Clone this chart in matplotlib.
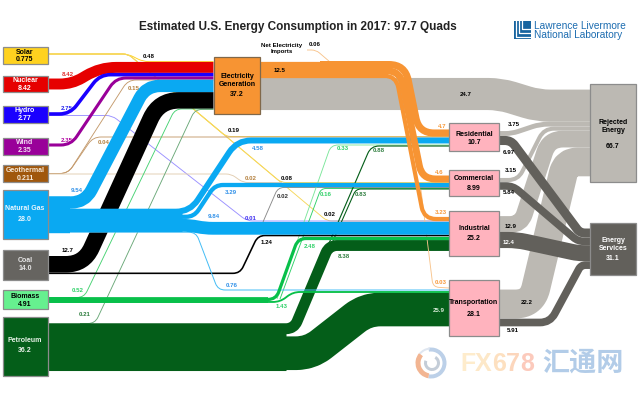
import numpy as np
import matplotlib
matplotlib.use('Agg')
import matplotlib.pyplot as plt
from matplotlib.path import Path
from matplotlib.patches import PathPatch, Rectangle, Wedge

plt.rcParams['font.family'] = ['Liberation Sans', 'DejaVu Sans']

# values in quads
title = 'Estimated U.S. Energy Consumption in 2017: 97.7 Quads'
source_names = ['Solar', 'Nuclear', 'Hydro', 'Wind', 'Geothermal', 'Natural Gas', 'Coal', 'Biomass', 'Petroleum']
source_values = [0.775, 8.42, 2.77, 2.35, 0.211, 28.0, 14.0, 4.91, 36.2]
sector_names = ['Residential', 'Commercial', 'Industrial', 'Transportation']
sector_values = [10.7, 8.99, 25.2, 28.1]
elec_value = 37.2
rejected_value = 66.7
services_value = 31.1
net_imports = 0.06

# same order as source_names
to_elec = [0.48, 8.42, 2.75, 2.35, 0.15, 9.54, 12.7, 0.52, 0.21]
solar_out = [0.19, 0.08, 0.02]        # res, com, ind
geo_out = [0.04, 0.02]                # res, com
hydro_out = [0.01]                    # ind
gas_out = [4.58, 3.29, 9.84, 0.76]    # res, com, ind, trans
coal_out = [0.02, 1.24]               # com, ind
bio_out = [0.33, 0.16, 2.48, 1.43]    # res, com, ind, trans
pet_out = [0.88, 0.83, 8.38, 25.9]    # res, com, ind, trans
elec_out = [4.7, 4.6, 3.23, 0.03]     # res, com, ind, trans
elec_loss = 24.7
elec_total_out = 12.5
to_rejected = [3.75, 3.15, 12.9, 22.2]  # res, com, ind, trans
to_services = [6.97, 5.84, 12.4, 5.91]  # res, com, ind, trans

# colours
YEL, RED, BLU, PUR, TAN = '#ffd21f', '#e60000', '#1a00ff', '#990099', '#a0570c'
GAS, BLK, BIO, PET, ORG = '#0aa9f2', '#000000', '#08c04a', '#045e19', '#f79433'
REJ, SRV, PNK = '#bcb9b3', '#62605b', '#ffb3be'

PX = 1.3  # pixels per quad


def fmt(v):
    if v >= 10:
        return '%.1f' % v
    return '%.3g' % v


def stack(top, values):
    '''centre y of each band when stacked downward from top'''
    w = np.array(values) * PX
    return top + np.cumsum(w) - w / 2


def rounded(pts, r):
    verts = [pts[0]]
    codes = [Path.MOVETO]
    for i in range(1, len(pts) - 1):
        p0, p1, p2 = [np.array(p, dtype=float) for p in pts[i-1:i+2]]
        d1 = p1 - p0
        d2 = p2 - p1
        l1 = np.hypot(*d1)
        l2 = np.hypot(*d2)
        rr = min(r, l1 / 2, l2 / 2)
        verts += [p1 - d1 / l1 * rr, p1, p1 + d2 / l2 * rr]
        codes += [Path.LINETO, Path.CURVE3, Path.CURVE3]
    verts.append(pts[-1])
    codes.append(Path.LINETO)
    return Path(verts, codes)


def flow(value, pts, color, r=None, pad=0):
    w = max(value * PX, 0.9) + pad
    if r is None:
        r = 7 + w
    ax.add_patch(PathPatch(rounded(pts, r), fc='none', ec=color, lw=w * 0.72,
                           capstyle='butt', joinstyle='round'))


def box(x0, x1, y0, y1, color, edge='#8c8c8c'):
    ax.add_patch(Rectangle((x0, y0), x1 - x0, y1 - y0, fc=color, ec=edge, lw=0.9, zorder=2))


def label(x, y, s, color='black', size=4.4, **kw):
    ax.text(x, y, s, color=color, fontsize=size, fontweight='bold', ha='center', va='center', zorder=4, **kw)


fig = plt.figure(figsize=(6.4, 4), dpi=100)
ax = fig.add_axes([0, 0, 1, 1])
ax.set_xlim(0, 640)
ax.set_ylim(400, 0)
ax.axis('off')

LX, EL, ER, SL, SR, RL = 48, 213.5, 260, 449, 499, 590

elec_y = stack(61.3, to_elec)
gas_y = stack(196.3, [to_elec[5]] + gas_out)
coal_y = stack(256, [to_elec[6], coal_out[1]])
bio_y = stack(296.5, [to_elec[7], bio_out[0], bio_out[1], bio_out[2], bio_out[3]])
pet_y = stack(323, [to_elec[8], pet_out[2], pet_out[0], pet_out[1], pet_out[3]])
rej_y = stack(89.6, [elec_loss] + to_rejected)
srv_y = stack(228.5, to_services)

# rejected energy at the back
flow(elec_loss, [(ER, 94), (500, 94), (538, rej_y[0]), (RL, rej_y[0])], REJ, r=12)
flow(to_rejected[3], [(SR, 304), (532, 304), (566, rej_y[4]), (RL, rej_y[4])], REJ, r=18)
flow(to_rejected[2], [(SR, 224.5), (521, 224.5), (549, rej_y[3]), (RL, rej_y[3])], REJ, r=14)
flow(to_rejected[1], [(SR, 180), (518, 180), (544, rej_y[2]), (RL, rej_y[2])], REJ, r=10)
flow(to_rejected[0], [(SR, 133.5), (512, 133.5), (540, rej_y[1]), (RL, rej_y[1])], REJ, r=8)

# energy services
flow(to_services[0], [(SR, 140.5), (511, 140.5), (580, srv_y[0]), (RL, srv_y[0])], SRV, r=10)
flow(to_services[1], [(SR, 186), (513, 186), (578, srv_y[1]), (RL, srv_y[1])], SRV, r=10)
flow(to_services[2], [(SR, 240), (517, 240), (578, srv_y[2]), (RL, srv_y[2])], SRV, r=12)
flow(to_services[3], [(SR, 322.5), (550, 322.5), (581, srv_y[3]), (RL, srv_y[3])], SRV, r=10)

# thin lines go behind the thick bands
YLINE = '#f6d75a'
flow(to_elec[0], [(LX, 54), (128, 54), (143, elec_y[0]), (EL, elec_y[0])], YEL, r=6)
flow(solar_out[0], [(LX, 54), (128, 54), (226, 136.5), (SL, 136.5)], YLINE, r=5)
flow(solar_out[1], [(LX, 54), (128, 54), (281, 182.5), (SL, 182.5)], YLINE, r=5)
flow(solar_out[2], [(LX, 54), (128, 54), (327, 221), (SL, 221)], YLINE, r=5)
flow(net_imports, [(307, 50), (316, 50), (330, 62)], '#f8c48c', r=5)

flow(hydro_out[0], [(LX, 115.5), (112, 115.5), (247, 221), (SL, 221)], '#9a90ff', r=6)
flow(to_elec[4], [(LX, 173.5), (68, 173.5), (128, 80), (EL, 80)], '#c49a6c', r=8)
flow(geo_out[0], [(LX, 173.5), (68, 173.5), (93, 137), (SL, 137)], '#c49a6c', r=8)
flow(geo_out[1], [(LX, 174), (231, 174), (243, 182.5), (282, 182.5)], '#e2cdb0', r=5)
flow(coal_out[0], [(263, 222), (278, 187.5), (SL, 187.5)], '#8a8a8a', r=6)
flow(to_elec[7], [(LX + 20, 297.5), (84, 297.5), (175, elec_y[7]), (EL, elec_y[7])], '#46d272', r=7)
flow(to_elec[8], [(80, 323.5), (95, 323.5), (195, elec_y[8]), (EL, elec_y[8])], '#6aa878', r=7)
flow(bio_out[0], [(277, 299), (331, 145), (SL, 145)], '#7be69a', r=7)
flow(bio_out[1], [(280, 299), (321, 188.5), (SL, 188.5)], '#2fd068', r=5)
flow(pet_out[0], [(292, 329), (371, 146), (SL, 146)], PET, r=8)
flow(pet_out[1], [(294, 329), (356, 189), (SL, 189)], PET, r=5)

# sources into electricity
flow(to_elec[1], [(LX, 84), (72, 84), (100, elec_y[1]), (EL, elec_y[1])], RED)
flow(to_elec[2], [(LX, 114), (70, 114), (100, elec_y[2]), (EL, elec_y[2])], BLU)
flow(to_elec[3], [(LX, 145), (71, 145), (116, elec_y[3]), (EL, elec_y[3])], PUR)

# petroleum, coal, biomass, gas
flow(pet_out[2], [(LX, pet_y[1]), (294, pet_y[1]), (329, 245.5), (SL, 245.5)], PET, r=8)
flow(pet_out[3], [(LX, pet_y[4]), (310, pet_y[4]), (366, 309.5), (SL, 309.5)], PET, r=14)
flow(source_values[8], [(LX, 346.5), (286, 346.5)], PET)
flow(elec_out[3], [(421, 190), (433, 287), (SL, 288)], '#f8c48c', r=6)
flow(to_elec[6], [(LX, coal_y[0]), (84, coal_y[0]), (159, elec_y[6]), (EL, elec_y[6])], BLK, r=20)
flow(coal_out[1], [(LX, coal_y[1]), (240, coal_y[1]), (258, 235.5), (SL, 235.5)], BLK, r=7)
flow(gas_out[3], [(LX, gas_y[4]), (196, gas_y[4]), (218, 290), (SL, 290)], '#45bdf5', r=7)
flow(bio_out[3], [(LX, bio_y[4]), (280, bio_y[4]), (293, 292), (SL, 292)], BIO, r=7)
flow(bio_out[2], [(LX, bio_y[3]), (276, bio_y[3]), (298, 238.5), (SL, 238.5)], BIO, r=8)
flow(sum(bio_out), [(LX, 300), (268, 300)], BIO)
flow(to_elec[7], [(LX, bio_y[0]), (80, bio_y[0])], BIO)
flow(to_elec[5], [(LX, gas_y[0]), (85, gas_y[0]), (146, elec_y[5]), (EL, elec_y[5])], GAS, r=14)
flow(gas_out[0], [(LX, gas_y[1]), (190, gas_y[1]), (237, 140.5), (SL, 140.5)], GAS, r=14)
flow(gas_out[1], [(LX, gas_y[2]), (194, gas_y[2]), (215, 185), (SL, 185)], GAS, r=8)
flow(gas_out[2], [(LX, gas_y[3]), (190, gas_y[3]), (205, 228.3), (SL, 228.3)], GAS, r=8)
flow(source_values[5], [(LX, 214.5), (70, 214.5)], GAS)
flow(sum(gas_out[:3]), [(LX, 220), (182, 220)], GAS)

# electricity out, padded a little so no gaps show between the three
out_y = stack(61.5, elec_out[:3])
flow(elec_out[0], [(320, out_y[0]), (405, out_y[0]), (419, 133), (SL, 133)], ORG, r=16, pad=1)
flow(elec_out[1], [(320, out_y[1]), (400, out_y[1]), (422, 179), (SL, 179)], ORG, r=14, pad=1)
flow(elec_out[2], [(320, out_y[2]), (396, out_y[2]), (424, 219), (SL, 219)], ORG, r=12)
flow(elec_total_out, [(ER, 69.5), (388, 69.5)], ORG)

# boxes
src_tops = [47, 76, 106, 138, 165, 190, 250, 290, 317]
src_bottoms = [63.5, 92, 123, 155, 182, 239, 280, 309, 376]
src_colors = ['#ffd21f', RED, BLU, PUR, TAN, GAS, '#666460', '#66f08f', PET]
src_text = ['black', 'white', 'white', '#f4dff4', '#f6e8d8', '#e8f6ff', '#e6e6e6', 'black', '#e8f2e8']
src_name_y = [52, 81, 110, 142, 171, 209, 260, 296, 341]
src_val_y = [59.5, 88, 118, 150, 178, 219.5, 269, 304, 351]
for i, name in enumerate(source_names):
    box(2.5, 48, src_tops[i], src_bottoms[i], src_colors[i])
    label(25, src_name_y[i], name, src_text[i], 5)
    label(25, src_val_y[i], fmt(source_values[i]), src_text[i], 5)

box(EL, ER, 57, 114, ORG, '#80684a')
label(237, 76, 'Electricity', size=5)
label(237, 84, 'Generation', size=5)
label(237, 95, fmt(elec_value), size=5)

sec_tops = [123, 170, 211, 280]
sec_bottoms = [151, 196, 256, 336]
sec_name_y = [134, 179, 228, 303]
sec_val_y = [142.5, 188, 238, 314]
for i, name in enumerate(sector_names):
    box(SL, SR, sec_tops[i], sec_bottoms[i], PNK)
    label(474, sec_name_y[i], name, size=5)
    label(474, sec_val_y[i], fmt(sector_values[i]), size=5)

box(RL, 636, 84, 182, REJ)
label(613, 123, 'Rejected', size=5)
label(613, 131, 'Energy', size=5)
label(613, 146, fmt(rejected_value), size=5)
box(RL, 636, 223, 275, SRV, '#8c8c8c')
label(613, 240, 'Energy', 'white', 5)
label(613, 248, 'Services', 'white', 5)
label(613, 259, fmt(services_value), 'white', 5)

# flow value labels
C_BLUE, C_TAN, C_GRN, C_DGR, C_ORG = '#2f90e8', '#b5813f', '#2fd068', '#2e7d3e', '#f79a3c'
label(149, 56, fmt(to_elec[0]))
label(68, 74, fmt(to_elec[1]), '#e03030')
label(67, 108, fmt(to_elec[2]), '#2020f0')
label(67, 140, fmt(to_elec[3]), '#b000a0')
label(134, 88, fmt(to_elec[4]), C_TAN)
label(77, 191, fmt(to_elec[5]), C_BLUE)
label(68, 250, fmt(to_elec[6]))
label(78, 290, fmt(to_elec[7]), C_GRN)
label(85, 315, fmt(to_elec[8]), C_DGR)
label(234, 131, fmt(solar_out[0]))
label(287, 178, fmt(solar_out[1]))
label(330, 214, fmt(solar_out[2]))
label(104, 142, fmt(geo_out[0]), C_TAN)
label(251, 178.5, fmt(geo_out[1]), C_TAN)
label(251, 218, fmt(hydro_out[0]), '#4030f0')
label(258, 148, fmt(gas_out[0]), C_BLUE)
label(231, 192, fmt(gas_out[1]), C_BLUE)
label(214, 217, fmt(gas_out[2]), C_BLUE)
label(232, 285.5, fmt(gas_out[3]), C_BLUE)
label(283, 197, fmt(coal_out[0]), '#333333')
label(267, 242.5, fmt(coal_out[1]))
label(343, 149, fmt(bio_out[0]), C_GRN)
label(326, 194, fmt(bio_out[1]), C_GRN)
label(310, 247, fmt(bio_out[2]), C_GRN)
label(282, 307, fmt(bio_out[3]), C_GRN)
label(379, 150, fmt(pet_out[0]), C_DGR)
label(361, 195, fmt(pet_out[1]), C_DGR)
label(344, 256, fmt(pet_out[2]), C_DGR)
label(439, 310.5, fmt(pet_out[3]), '#d8ecd8')
label(442, 127, fmt(elec_out[0]), C_ORG)
label(439, 172, fmt(elec_out[1]), C_ORG)
label(441, 212, fmt(elec_out[2]), C_ORG)
label(441, 283, fmt(elec_out[3]), C_ORG)
label(280, 70, fmt(elec_total_out))
label(466, 94, fmt(elec_loss))
label(514, 125, fmt(to_rejected[0]))
label(511, 170, fmt(to_rejected[1]))
label(511, 226, fmt(to_rejected[2]))
label(527, 303, fmt(to_rejected[3]))
label(509, 153, fmt(to_services[0]))
label(509, 193, fmt(to_services[1]))
label(509, 243, fmt(to_services[2]), 'white')
label(513, 330.5, fmt(to_services[3]))
label(282, 45, 'Net Electricity')
label(282, 52, 'Imports')
label(315, 45, fmt(net_imports))

ax.text(298, 27, title, fontsize=8.5, fontweight='bold', color='#222222', ha='center', va='center')

# logo
LOGO = '#17649f'
ax.add_patch(Rectangle((514, 21), 17, 18, fc=LOGO, ec='none', zorder=2))
for dx in [2, 5, 8]:
    ax.plot([514 + dx, 514 + dx, 531], [21, 39 - dx * 1.2, 39 - dx * 1.2], color='white', lw=0.9, zorder=3)
ax.text(534, 26, 'Lawrence Livermore', color='#1c6cb0', fontsize=7.3, ha='left', va='center')
ax.text(534, 35, 'National Laboratory', color='#1c6cb0', fontsize=7.3, ha='left', va='center')

# watermark
ax.add_patch(Wedge((431, 363), 15.5, -100, 100, width=4, fc='#bcd0e8', ec='none'))
ax.add_patch(Wedge((431, 363), 15.5, 100, 220, width=5, fc='#f2b592', ec='none'))
ax.add_patch(Wedge((431, 363), 15.5, 220, 265, width=2, fc='#dfe6f0', ec='none'))
ax.add_patch(Wedge((432, 363), 8, -60, 200, width=3, fc='#c4cdd8', ec='none'))
wm_letters = list('FX678')
wm_colors = ['#feeccc', '#fde8c8', '#fde0c0', '#fcd6bc', '#fccabc']
wm_x = [460, 475.2, 492, 505.9, 519.8]
for s, c, x in zip(wm_letters, wm_colors, wm_x):
    ax.text(x, 364, s, color=c, fontsize=18, fontweight='bold', ha='left', va='center')
ax.text(583, 363, '汇通网', color='#b2cce8', fontsize=19.5, fontweight='bold', ha='center', va='center',
        family=['Noto Sans CJK SC', 'DejaVu Sans'])

plt.savefig('out.png', dpi=100)
